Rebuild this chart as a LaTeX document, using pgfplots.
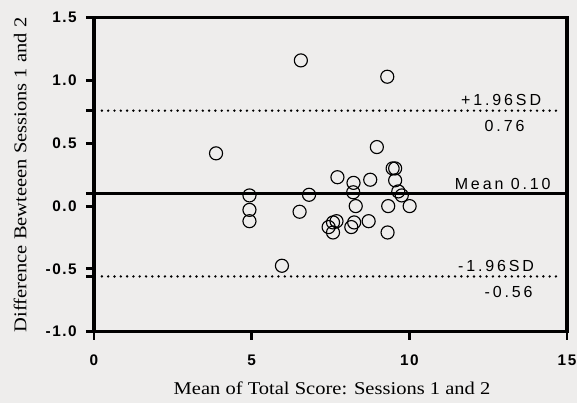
\documentclass[border=0pt]{standalone}
\usepackage{pgfplots}
\pgfplotsset{compat=1.18}
\usepackage{fontspec}
\setmainfont{Liberation Serif}
\newfontfamily\serifl{Liberation Serif}[FakeStretch=1.14]
\newfontfamily\tickf{Liberation Sans}[LetterSpace=10]
\newfontfamily\linef{Liberation Sans}[LetterSpace=18]
\newcommand\tl[1]{\tickf\bfseries\fontsize{11.5pt}{13pt}\selectfont #1}
\definecolor{bg}{RGB}{238,237,236}
\begin{document}
\begin{tikzpicture}
\fill[bg] (0pt,0pt) rectangle (432.75pt,302.25pt);
\useasboundingbox (0pt,0pt) rectangle (432.75pt,302.25pt);
\begin{axis}[
  at={(70.5pt,53.475pt)}, anchor=south west,
  scale only axis, width=354.75pt, height=235.5pt,
  xmin=0, xmax=15, ymin=-1.0, ymax=1.5,
  xtick={0,5,10,15}, xticklabels={0,5,10,15},
  ytick={-1,-0.5,0,0.5,1,1.5}, yticklabels={-1.0,-0.5,0.0,0.5,1.0,1.5},
  extra y ticks={-0.56,0.10,0.76}, extra y tick labels={},
  extra y tick style={major tick length=6pt},
  xtick pos=bottom, ytick pos=left,
  tick align=outside, major tick length=6pt,
  every tick/.style={line width=2.2pt, black},
  axis line style={line width=2.5pt},
  axis background/.style={fill=bg},
  every tick label/.style={font=\tl{}, inner sep=0pt},
  yticklabel style={xshift=-6.75pt},
  xticklabel style={yshift=-11pt},
  clip=false,
]
\addplot[only marks, mark=o, mark size=4.9pt, mark options={line width=0.85pt, black}] coordinates {
(3.87,0.42) (4.93,0.085) (4.93,-0.03) (4.93,-0.12) (5.96,-0.475)
(6.52,-0.045) (6.56,1.16) (6.82,0.09) (7.44,-0.167) (7.58,-0.21)
(7.58,-0.13) (7.69,-0.12) (7.72,0.23) (8.16,-0.167) (8.22,0.11)
(8.23,0.185) (8.25,-0.13) (8.30,0.0) (8.71,-0.12) (8.76,0.21)
(8.97,0.47) (9.30,1.03) (9.31,-0.21) (9.33,0.0) (9.47,0.30)
(9.55,0.30) (9.55,0.205) (9.65,0.117) (9.76,0.085) (10.01,0.0)
};
\addplot[black, line width=2.3pt] coordinates {(0,0.10) (15,0.10)};
\addplot[black, line width=2pt, line cap=round, dash pattern=on 0pt off 4.73pt] coordinates {(0.25,0.76) (14.8,0.76)};
\addplot[black, line width=2pt, line cap=round, dash pattern=on 0pt off 4.73pt] coordinates {(0.25,-0.56) (14.8,-0.56)};
\node[font=\linef\fontsize{12pt}{14pt}\selectfont, inner sep=0pt] at (axis cs:12.91,0.842) {+1.96SD};
\node[font=\linef\fontsize{12pt}{14pt}\selectfont, inner sep=0pt] at (axis cs:13.02,0.635) {0.76};
\node[font=\linef\fontsize{12pt}{14pt}\selectfont, inner sep=0pt] at (axis cs:12.96,0.173) {Mean 0.10};
\node[font=\linef\fontsize{12pt}{14pt}\selectfont, inner sep=0pt] at (axis cs:12.75,-0.476) {-1.96SD};
\node[font=\linef\fontsize{12pt}{14pt}\selectfont, inner sep=0pt] at (axis cs:13.15,-0.68) {-0.56};
\end{axis}
\node[font=\serifl\fontsize{13.5pt}{15pt}\selectfont, inner sep=0pt] at (249pt,11.25pt) {Mean of Total Score: Sessions 1 and 2};
\node[rotate=90, font=\serifl\fontsize{13.5pt}{15pt}\selectfont, inner sep=0pt] at (15pt,171pt) {Difference Bewteeen Sessions 1 and 2};
\end{tikzpicture}
\end{document}
